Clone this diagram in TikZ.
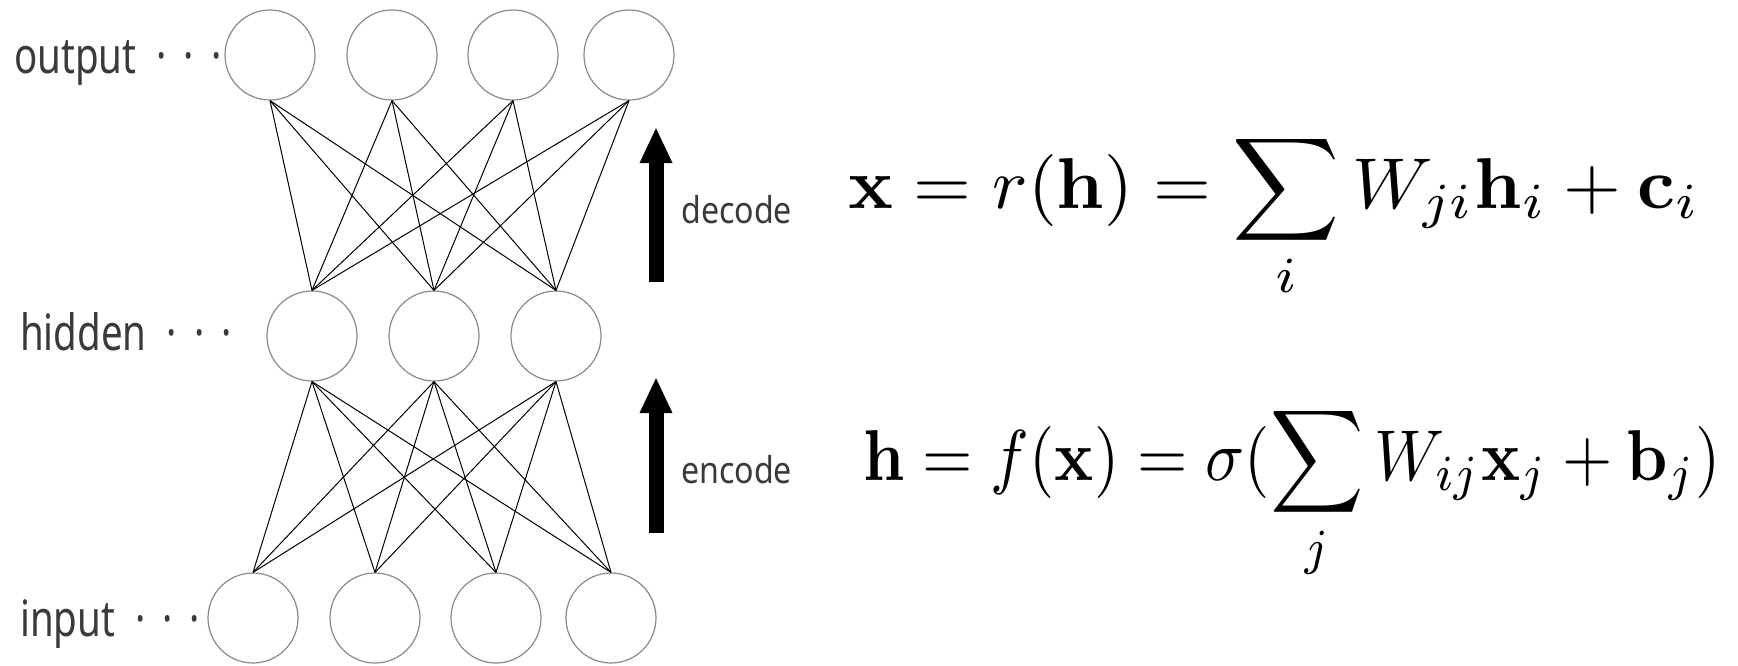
\documentclass[tikz,border=0pt]{standalone}
\usepackage{amsmath}
\usepackage{graphicx}
\usepackage[no-math]{fontspec}
\newfontfamily\labfont[FakeStretch=0.77]{Noto Sans}
\newfontfamily\dirfont[FakeStretch=0.87]{Noto Sans}
\usetikzlibrary{arrows.meta}
\definecolor{labgray}{HTML}{3A3A3A}
\definecolor{ringgray}{HTML}{8A8A8A}
\newcommand{\mydots}{\kern20pt·\kern17pt·\kern17pt·}
\begin{document}
\begin{tikzpicture}[x=1pt,y=-1pt,
  neuron/.style={circle,draw=ringgray,line width=1.2pt,minimum size=90pt,inner sep=0pt},
  wire/.style={black,line width=1pt},
  layerlab/.style={anchor=base west,inner sep=0pt,text=labgray,font=\labfont\fontsize{50}{60}\selectfont},
  dirlab/.style={anchor=base west,inner sep=0pt,text=labgray,font=\dirfont\fontsize{37}{44}\selectfont},
  bigarrow/.style={line width=15pt,-{Triangle[length=36pt,width=30pt]}},
  eq/.style={anchor=base west,inner sep=0pt}]
\useasboundingbox (0,0) rectangle (1738,665);
% output layer
\node[neuron] (o1) at (270,55) {};
\node[neuron] (o2) at (392,55) {};
\node[neuron] (o3) at (513,55) {};
\node[neuron] (o4) at (629,55) {};
% hidden layer
\node[neuron] (h1) at (312,336) {};
\node[neuron] (h2) at (434,336) {};
\node[neuron] (h3) at (556,336) {};
% input layer
\node[neuron] (i1) at (253,618) {};
\node[neuron] (i2) at (375,618) {};
\node[neuron] (i3) at (496,618) {};
\node[neuron] (i4) at (611,618) {};
% connections
\foreach \o in {o1,o2,o3,o4}{
  \foreach \h in {h1,h2,h3}{
    \draw[wire] (\o.south) -- (\h.north);
  }
}
\foreach \h in {h1,h2,h3}{
  \foreach \i in {i1,i2,i3,i4}{
    \draw[wire] (\h.south) -- (\i.north);
  }
}
% labels
\node[layerlab] (lo) at (14,73) {output\mydots};
\node[layerlab] (lh) at (20,350) {hidden\mydots};
\node[layerlab] (li) at (20,636) {input\mydots};
% arrows
\coordinate (dA) at (656,282);
\coordinate (dB) at (656,127);
\coordinate (eA) at (656,533);
\coordinate (eB) at (656,377);
\draw[bigarrow] (dA) -- (dB);
\draw[bigarrow] (eA) -- (eB);
\node[dirlab] (ld) at (681,223) {decode};
\node[dirlab] (le) at (681,483) {encode};
% equations
\node[eq] (eq1) at (848,208) {\resizebox{852pt}{7.2\height}{$\displaystyle \mathbf{x} = r(\mathbf{h}) = \sum_i W_{ji}\mathbf{h}_i + \mathbf{c}_i$}};
\node[eq] (eq2) at (863,480) {\resizebox{857pt}{7.2\height}{$\displaystyle \mathbf{h} = f(\mathbf{x}) = \sigma(\sum_j W_{ij}\mathbf{x}_j + \mathbf{b}_j)$}};
\end{tikzpicture}
\end{document}
